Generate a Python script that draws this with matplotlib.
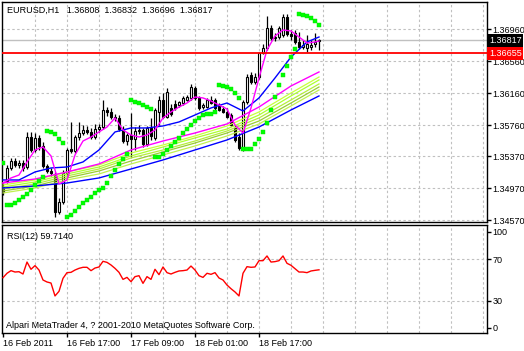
import matplotlib
matplotlib.use("Agg")
import matplotlib.pyplot as plt
import matplotlib.transforms as mtransforms

plt.rcParams["font.family"] = ["Liberation Sans", "DejaVu Sans"]

# EURUSD H1 candles (16-18 Feb 2011)
opens = [1.34985, 1.35060, 1.35223, 1.35310, 1.35260, 1.35285, 1.35235, 1.35610, 1.35448, 1.35598,
         1.35498, 1.35248, 1.35185, 1.35148, 1.34673, 1.34798, 1.35160, 1.35460, 1.35435, 1.35610,
         1.35660, 1.35698, 1.35673, 1.35610, 1.35710, 1.35735, 1.35948, 1.35923, 1.35860, 1.35848,
         1.35710, 1.35560, 1.35635, 1.35585, 1.35685, 1.35698, 1.35523, 1.35723, 1.35598, 1.35923,
         1.36073, 1.35860, 1.35973, 1.36023, 1.36010, 1.36035, 1.36073, 1.36098, 1.36223, 1.36098,
         1.35985, 1.35985, 1.36073, 1.36073, 1.35998, 1.35960, 1.35923, 1.35885, 1.35723, 1.35610,
         1.35473, 1.36048, 1.36385, 1.36298, 1.36360, 1.36660, 1.36723, 1.36973, 1.36848, 1.36860,
         1.36885, 1.37110, 1.36898, 1.36910, 1.36798, 1.36735, 1.36723, 1.36735, 1.36773, 1.36808]
highs = [1.35035, 1.35260, 1.35348, 1.35348, 1.35323, 1.35323, 1.35673, 1.35673, 1.35660, 1.35635,
         1.35548, 1.35273, 1.35223, 1.35173, 1.34848, 1.35198, 1.35473, 1.35798, 1.35635, 1.35798,
         1.35760, 1.35748, 1.35723, 1.35773, 1.35773, 1.36073, 1.35985, 1.35973, 1.35898, 1.35885,
         1.35748, 1.35660, 1.35910, 1.35735, 1.35760, 1.35723, 1.35748, 1.35848, 1.35973, 1.36123,
         1.36160, 1.36223, 1.36023, 1.36073, 1.36060, 1.36123, 1.36135, 1.36273, 1.36248, 1.36123,
         1.36035, 1.36098, 1.36123, 1.36098, 1.36035, 1.35998, 1.35973, 1.35910, 1.35760, 1.35660,
         1.36073, 1.36398, 1.36423, 1.36410, 1.36673, 1.36773, 1.37123, 1.37010, 1.36910, 1.36998,
         1.37148, 1.37148, 1.36948, 1.36948, 1.36923, 1.36823, 1.36885, 1.36823, 1.36910, 1.36832]
lows = [1.34885, 1.35035, 1.35198, 1.35235, 1.35223, 1.35185, 1.35210, 1.35423, 1.35423, 1.35448,
        1.35223, 1.35160, 1.35123, 1.34610, 1.34648, 1.34773, 1.35123, 1.35410, 1.35410, 1.35573,
        1.35635, 1.35648, 1.35585, 1.35585, 1.35673, 1.35710, 1.35873, 1.35835, 1.35810, 1.35685,
        1.35535, 1.35510, 1.35360, 1.35448, 1.35648, 1.35485, 1.35498, 1.35573, 1.35573, 1.35760,
        1.35848, 1.35848, 1.35873, 1.35948, 1.35985, 1.36010, 1.36060, 1.36073, 1.36073, 1.35948,
        1.35960, 1.35973, 1.36023, 1.35948, 1.35935, 1.35910, 1.35848, 1.35748, 1.35548, 1.35448,
        1.35435, 1.36023, 1.36273, 1.36273, 1.36335, 1.36648, 1.36698, 1.36823, 1.36810, 1.36835,
        1.36860, 1.36873, 1.36823, 1.36773, 1.36710, 1.36710, 1.36673, 1.36698, 1.36735, 1.36696]
closes = [1.34923, 1.35223, 1.35310, 1.35260, 1.35285, 1.35223, 1.35610, 1.35448, 1.35598, 1.35498,
          1.35248, 1.35185, 1.35160, 1.34673, 1.34798, 1.35160, 1.35448, 1.35435, 1.35610, 1.35660,
          1.35698, 1.35673, 1.35610, 1.35710, 1.35735, 1.35948, 1.35923, 1.35860, 1.35848, 1.35710,
          1.35560, 1.35635, 1.35585, 1.35685, 1.35698, 1.35523, 1.35723, 1.35623, 1.35948, 1.36073,
          1.35860, 1.36173, 1.35898, 1.35973, 1.36048, 1.36098, 1.36110, 1.36235, 1.36098, 1.35973,
          1.36010, 1.36073, 1.36035, 1.35973, 1.35948, 1.35923, 1.35860, 1.35760, 1.35573, 1.35473,
          1.36048, 1.36360, 1.36298, 1.36360, 1.36660, 1.36723, 1.36973, 1.36848, 1.36860, 1.36973,
          1.37110, 1.36898, 1.36873, 1.36798, 1.36735, 1.36760, 1.36773, 1.36760, 1.36798, 1.36817]

# parabolic SAR, one dot per bar
sar = [1.35285, 1.34760, 1.34760, 1.34785, 1.34823, 1.34860, 1.34898, 1.34948, 1.35010, 1.35060,
       1.35110, 1.35685, 1.35673, 1.35648, 1.35585, 1.35535, 1.34610, 1.34635, 1.34685, 1.34735,
       1.34785, 1.34823, 1.34860, 1.34910, 1.34948, 1.34973, 1.35035, 1.35123, 1.35198, 1.35273,
       1.35335, 1.35398, 1.36073, 1.36048, 1.36035, 1.36010, 1.35985, 1.35960, 1.35360, 1.35360,
       1.35398, 1.35448, 1.35498, 1.35548, 1.35598, 1.35660, 1.35710, 1.35760, 1.35810, 1.35848,
       1.35885, 1.35898, 1.35898, 1.35923, 1.36260, 1.36248, 1.36235, 1.36210, 1.36160, 1.36098,
       1.35460, 1.35460, 1.35460, 1.35523, 1.35585, 1.35673, 1.35785, 1.35948, 1.36110, 1.36260,
       1.36385, 1.36498, 1.36610, 1.36710, 1.37148, 1.37135, 1.37123, 1.37098, 1.37060, 1.37010]

# moving averages, read at every 2nd / 4th / 8th bar
fast_bars = list(range(0, 80, 2)) + [79]
fast_ma = [1.35035, 1.35098, 1.35135, 1.35298, 1.35448, 1.35485, 1.35373, 1.35023, 1.35073, 1.35385,
           1.35560, 1.35610, 1.35673, 1.35735, 1.35848, 1.35698, 1.35635, 1.35610, 1.35635, 1.35698,
           1.35848, 1.35923, 1.35985, 1.36035, 1.36110, 1.36098, 1.36060, 1.36010, 1.35960, 1.35760,
           1.35660, 1.35973, 1.36348, 1.36698, 1.36873, 1.36948, 1.36935, 1.36860, 1.36785, 1.36798,
           1.36810]
mid_bars = list(range(0, 80, 4)) + [79]
mid_ma = [1.35073, 1.35073, 1.35173, 1.35223, 1.35235, 1.35298, 1.35448, 1.35673, 1.35723, 1.35723,
          1.35748, 1.35798, 1.35885, 1.35973, 1.36035, 1.35935, 1.36098, 1.36348, 1.36610, 1.36798,
          1.36860]
slow_bars = list(range(0, 80, 8)) + [79]
slow_top = [1.35035, 1.35085, 1.35173, 1.35273, 1.35448, 1.35560, 1.35660, 1.35773, 1.35985, 1.36248, 1.36423]
band1 = [1.35010, 1.35073, 1.35173, 1.35260, 1.35410, 1.35510, 1.35623, 1.35748, 1.35923, 1.36160, 1.36360]
band2 = [1.34985, 1.35048, 1.35148, 1.35235, 1.35373, 1.35485, 1.35598, 1.35710, 1.35885, 1.36123, 1.36323]
band3 = [1.34960, 1.35023, 1.35123, 1.35210, 1.35348, 1.35448, 1.35560, 1.35685, 1.35848, 1.36073, 1.36273]
band4 = [1.34935, 1.34998, 1.35098, 1.35185, 1.35310, 1.35423, 1.35535, 1.35660, 1.35810, 1.36035, 1.36235]
band5 = [1.34910, 1.34973, 1.35073, 1.35148, 1.35273, 1.35385, 1.35498, 1.35623, 1.35773, 1.35998, 1.36198]
slow_bottom = [1.34973, 1.34998, 1.35035, 1.35098, 1.35210, 1.35323, 1.35448, 1.35573, 1.35735, 1.35948, 1.36123]

rsi = [52.2, 56.4, 58.9, 57.6, 57.9, 55.7, 67.1, 60.2, 63.7, 59.5,
       50.0, 48.1, 47.1, 34.8, 39.2, 51.6, 57.0, 57.3, 59.5, 61.1,
       62.1, 62.1, 58.9, 61.4, 62.4, 67.8, 66.8, 64.3, 61.1, 57.3,
       50.6, 52.5, 48.4, 53.2, 54.1, 46.8, 53.2, 50.6, 60.2, 55.1,
       62.4, 57.0, 55.7, 57.3, 58.6, 58.9, 59.5, 63.3, 59.5, 54.1,
       52.5, 56.4, 55.4, 57.0, 51.9, 50.0, 45.2, 41.7, 38.6, 34.8,
       56.4, 62.7, 62.1, 62.4, 68.4, 68.4, 72.9, 67.1, 67.5, 68.4,
       72.9, 65.9, 64.0, 60.8, 57.6, 57.6, 57.0, 58.6, 59.2, 59.714]

price_ticks = [1.36960, 1.36560, 1.36160, 1.35760, 1.35370, 1.34970, 1.34570]
date_bars = [0, 16, 32, 48, 64]
date_labels = ["16 Feb 2011", "16 Feb 17:00", "17 Feb 09:00", "18 Feb 01:00", "18 Feb 17:00"]
bid = 1.36817
level = 1.36655

GRID = dict(color="#C0C0C0", lw=0.8, linestyle=(0, (2.2, 2.2)), zorder=0)
FS = 6.5

fig = plt.figure(figsize=(5.24, 3.51), dpi=100)
ax = fig.add_axes([2 / 524, 129 / 351, 485 / 524, 220 / 351])
ax_rsi = fig.add_axes([2 / 524, 18 / 351, 485 / 524, 108 / 351])

for a in (ax, ax_rsi):
    a.set_xlim(-0.25, 121)
    for s in a.spines.values():
        s.set_linewidth(1.0)
        s.set_color("black")
    for b in range(8, 121, 8):
        a.axvline(b, **GRID)

# main price panel
ax.set_ylim(1.345475, 1.372975)
for p in price_ticks:
    ax.axhline(p, **GRID)
ax.axhline(bid, color="#C0C0C0", lw=1.0, zorder=1)
ax.axhline(level, color="#FF0000", lw=1.3, zorder=5)

for i in range(len(opens)):
    o, h, l, c = opens[i], highs[i], lows[i], closes[i]
    ax.vlines(i, l, h, color="black", lw=0.9, zorder=2)
    if abs(c - o) < 1e-6:
        ax.hlines(o, i - 0.35, i + 0.35, color="black", lw=0.9, zorder=3)
    else:
        ax.bar(i, abs(c - o), bottom=min(o, c), width=0.55,
               color="white" if c > o else "black", edgecolor="black", lw=0.8, zorder=3)

greens = ["#C8FF3C", "#ADFF2F", "#B4EE3C", "#9ACD32", "#C0F050"]
for band, col in zip([band1, band2, band3, band4, band5], greens):
    ax.plot(slow_bars, band, color=col, lw=0.9, zorder=4)
ax.plot(slow_bars, slow_top, color="#FF00FF", lw=1.0, zorder=4)
ax.plot(slow_bars, slow_bottom, color="#0000FF", lw=1.0, zorder=4)
ax.plot(mid_bars, mid_ma, color="#0000FF", lw=1.0, zorder=4)
ax.plot(fast_bars, fast_ma, color="#FF00FF", lw=1.0, zorder=4)
ax.plot(range(len(sar)), sar, "s", color="#00FF00", ms=2.4, mec="#00E000", mew=0.3, zorder=6)

ax.set_xticks([])
ax.yaxis.tick_right()
ax.set_yticks(price_ticks)
ax.set_yticklabels([f"{p:.5f}" for p in price_ticks])
ax.tick_params(axis="y", direction="out", length=3, width=1, pad=1, labelsize=FS)

trans = mtransforms.blended_transform_factory(ax.transAxes, ax.transData)
ax.text(1.004, bid, f"{bid:.5f}", transform=trans, color="white", fontsize=FS, va="center",
        ha="left", bbox=dict(boxstyle="square,pad=0.2", fc="black", ec="none"), zorder=10, clip_on=False)
ax.text(1.004, level, f"{level:.5f}", transform=trans, color="white", fontsize=FS, va="center",
        ha="left", bbox=dict(boxstyle="square,pad=0.2", fc="#FF0000", ec="none"), zorder=10, clip_on=False)
ax.text(0.011, 0.964, "EURUSD,H1   1.36808  1.36832  1.36696  1.36817", transform=ax.transAxes,
        fontsize=FS, va="center", ha="left")

# RSI panel
ax_rsi.set_ylim(-0.5, 102.4)
for lvl in (70, 30):
    ax_rsi.axhline(lvl, **GRID)
ax_rsi.plot(range(len(rsi)), rsi, color="#FF0000", lw=1.0, zorder=3)
ax_rsi.yaxis.tick_right()
ax_rsi.set_yticks([4.5, 30, 70, 96])
ax_rsi.set_yticklabels(["0", "30", "70", "100"])
ax_rsi.tick_params(axis="y", direction="out", length=3, width=1, pad=1, labelsize=FS)
ax_rsi.set_xticks(date_bars)
ax_rsi.set_xticklabels(date_labels, ha="left")
ax_rsi.tick_params(axis="x", direction="out", length=3, width=1, pad=1, labelsize=FS)
ax_rsi.text(0.011, 0.895, f"RSI(12) {rsi[-1]:.4f}", transform=ax_rsi.transAxes, fontsize=FS, va="center")
ax_rsi.text(0.009, 0.065, "Alpari MetaTrader 4, ? 2001-2010 MetaQuotes Software Corp.",
            transform=ax_rsi.transAxes, fontsize=FS, va="center")

fig.savefig("out.png", dpi=100)
